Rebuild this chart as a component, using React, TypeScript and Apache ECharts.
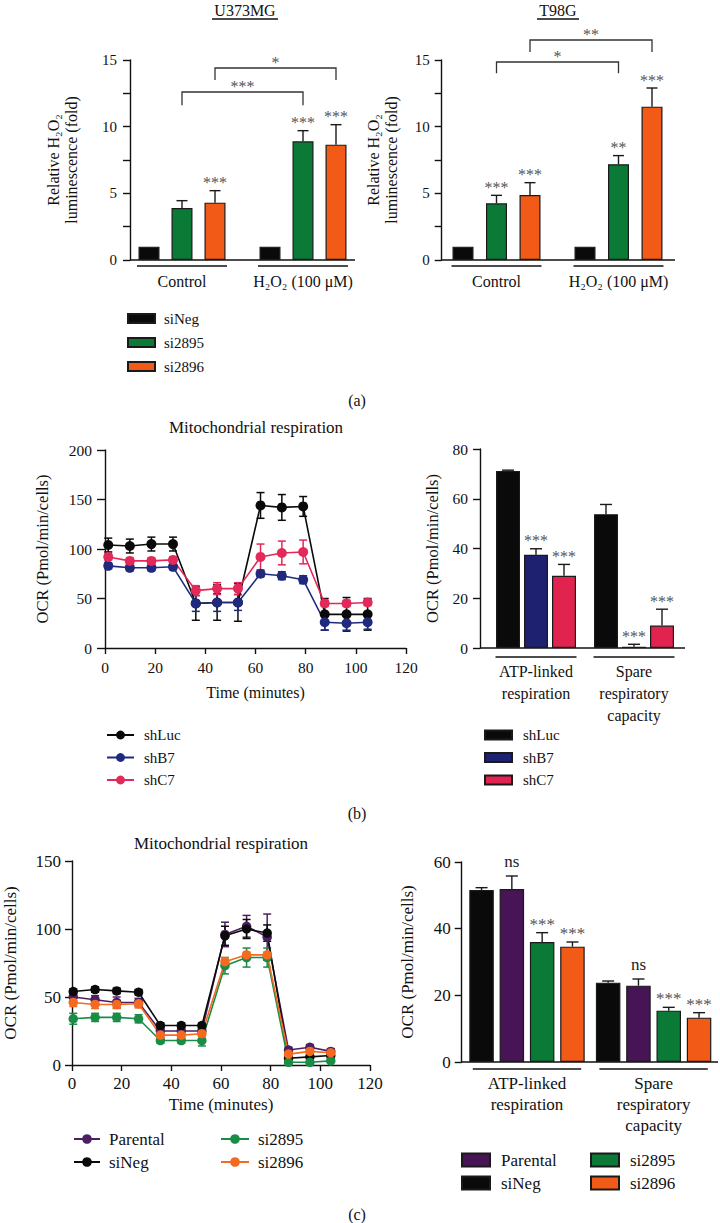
import React, { useEffect, useRef } from "react";
import * as echarts from "echarts";

const FONT = "'Liberation Serif', 'DejaVu Serif', serif";
const INK = "#111111";
const STAR = "#555555";

// ---------- (a) relative H2O2 luminescence ----------
const aGroups = ["Control", "H₂O₂ (100 μM)"];
const aNames = ["siNeg", "si2895", "si2896"];
const aColors = ["#0a0a0a", "#0b7a36", "#f15a17"];
const u373Means = [[1.0, 1.0], [3.9, 8.9], [4.3, 8.65]];
const u373Errs = [[0, 0], [0.55, 0.8], [0.9, 1.5]];
const u373Stars = [["", ""], ["", "***"], ["***", "***"]];
const t98gMeans = [[1.0, 1.0], [4.25, 7.18], [4.88, 11.5]];
const t98gErrs = [[0, 0], [0.6, 0.65], [0.92, 1.4]];
const t98gStars = [["", ""], ["***", "**"], ["***", "***"]];
// [fromGroup, fromSeries, toGroup, toSeries, level, tickEnd]
const u373Brackets = [[0, 1, 1, 1, 12.6, 11.6], [0, 2, 1, 2, 14.4, 13.5]];
const u373BracketLabels = ["***", "*"];
const t98gBrackets = [[0, 1, 1, 1, 14.85, 14.0], [0, 2, 1, 2, 16.5, 15.6]];
const t98gBracketLabels = ["*", "**"];

// ---------- (b) shRNA mitochondrial respiration ----------
const bTime = [1.3, 9.9, 18.5, 27.1, 36.2, 44.7, 53.0, 62.0, 70.5, 79.0, 87.6, 96.3, 104.7];
const bLineNames = ["shLuc", "shB7", "shC7"];
const bLineColors = ["#0a0a0a", "#1f2a7c", "#e3285a"];
const shLucMean = [104, 103, 105, 105, 45, 46, 46, 144, 142, 143, 34, 34, 34];
const shLucErr = [7, 7, 7, 7, 17, 18, 19, 13, 13, 10, 16, 17, 16];
const shB7Mean = [83, 81, 81, 82, 45, 46, 46, 75, 73, 69, 26, 25, 26];
const shB7Err = [3, 3, 3, 3, 8, 9, 8, 3, 4, 4, 8, 7, 7];
const shC7Mean = [92, 88, 88, 89, 58, 60, 60, 92, 96, 97, 45, 45, 46];
const shC7Err = [3, 3, 3, 3, 5, 6, 6, 13, 12, 12, 3, 3, 3];

const bGroups = ["ATP-linked\nrespiration", "Spare\nrespiratory\ncapacity"];
const bBarNames = ["shLuc", "shB7", "shC7"];
const bBarColors = ["#0a0a0a", "#1d2170", "#e0234f"];
const bBarMeans = [[71.2, 53.8], [37.5, 0.5], [29.0, 9.0]];
const bBarErrs = [[0.3, 3.9], [2.4, 1.0], [4.6, 6.6]];
const bBarStars = [["", ""], ["***", "***"], ["***", "***"]];

// ---------- (c) siRNA mitochondrial respiration ----------
const cTime = [0.5, 9.3, 18.0, 26.8, 35.6, 44.0, 52.3, 61.6, 70.3, 78.6, 87.2, 95.8, 104.2];
const cLineNames = ["Parental", "siNeg", "si2895", "si2896"];
const cLineColors = ["#4c1f63", "#0a0a0a", "#1a8c45", "#f36a20"];
const parentalMean = [50, 48, 46, 46, 25, 25, 25, 96, 102, 94, 11, 13, 10];
const parentalErr = [3, 3, 4, 3, 3, 3, 3, 9, 8, 17, 2, 2, 2];
const siNegMean = [54, 55.5, 54.5, 53.5, 29, 29, 29, 95, 100, 97, 5, 6, 7];
const siNegErr = [2, 2, 2, 2, 2, 2, 2, 7, 7, 6, 2, 2, 2];
const si2895Mean = [34, 35, 35, 34, 18, 18, 18, 73, 79, 79, 2, 2, 3];
const si2895Err = [4, 3, 3, 3, 2, 2, 4, 6, 7, 7, 1, 1, 1];
const si2896Mean = [46, 44.5, 44.5, 45, 22, 22, 23, 76, 81, 81, 8, 10, 9];
const si2896Err = [3, 3, 3, 3, 2, 2, 2, 3, 2, 2, 2, 2, 2];

const cGroups = ["ATP-linked\nrespiration", "Spare\nrespiratory\ncapacity"];
const cBarNames = ["siNeg", "Parental", "si2895", "si2896"];
const cBarColors = ["#0a0a0a", "#471455", "#0b7a36", "#f15a17"];
const cBarMeans = [[51.6, 23.8], [51.9, 22.9], [36.0, 15.4], [34.6, 13.3]];
const cBarErrs = [[0.7, 0.5], [3.9, 2.0], [2.8, 1.0], [1.4, 1.5]];
const cBarStars = [["", ""], ["ns", "ns"], ["***", "***"], ["***", "***"]];

const strip = (n: string) => n.slice(n.indexOf(":") + 1);

type BarCfg = {
  grid: number;
  prefix: string;
  names: string[];
  groups: string[];
  means: number[][];
  errs: number[][];
  stars: string[][];
  colors: string[];
  bw: number;
  gap: number;
  cap: number;
  starSize: number;
  lineDy: number;
  linePad: number;
  brackets?: number[][];
  bracketLabels?: string[];
};

function barSeries(o: BarCfg): any[] {
  const n = o.names.length;
  const step = o.bw + o.gap;
  const off = (s: number) => (s - (n - 1) / 2) * step;
  const out: any[] = [];
  o.names.forEach((nm, s) => {
    out.push({
      type: "bar",
      name: o.prefix + nm,
      xAxisIndex: o.grid,
      yAxisIndex: o.grid,
      data: o.means[s],
      barWidth: o.bw,
      barGap: (o.gap / o.bw) * 100 + "%",
      itemStyle: { color: o.colors[s], borderColor: "#1a1a1a", borderWidth: 1.2 },
      z: 2,
    });
  });
  o.names.forEach((nm, s) => {
    out.push({
      type: "custom",
      name: "err",
      xAxisIndex: o.grid,
      yAxisIndex: o.grid,
      clip: false,
      silent: true,
      z: 3,
      data: o.means[s].map((m, i) => [i, m, o.errs[s][i]]),
      encode: { x: 0, y: 1 },
      renderItem: (_p: any, api: any) => {
        const i = api.value(0);
        const m = api.value(1);
        const e = api.value(2);
        const b = api.coord([i, m]);
        const t = api.coord([i, m + e]);
        const x = b[0] + off(s);
        const st = { stroke: "#1a1a1a", lineWidth: 1.4 };
        const children: any[] = [];
        if (e > 0) {
          children.push({ type: "line", shape: { x1: x, y1: b[1], x2: x, y2: t[1] }, style: st });
          children.push({ type: "line", shape: { x1: x - o.cap / 2, y1: t[1], x2: x + o.cap / 2, y2: t[1] }, style: st });
        }
        const star = o.stars[s][i];
        if (star) {
          children.push({
            type: "text",
            x,
            y: t[1] + (star === "ns" ? -6 : 0),
            style: {
              text: star,
              fill: star === "ns" ? "#222" : STAR,
              fontSize: o.starSize,
              fontFamily: FONT,
              align: "center",
              verticalAlign: "bottom",
            },
          });
        }
        return { type: "group", children };
      },
    });
  });
  // group underlines below the axis
  out.push({
    type: "custom",
    name: "grp",
    xAxisIndex: o.grid,
    yAxisIndex: o.grid,
    clip: false,
    silent: true,
    data: o.groups.map((_g, i) => [i, 0]),
    encode: { x: 0, y: 1 },
    renderItem: (_p: any, api: any) => {
      const c = api.coord([api.value(0), 0]);
      const half = (n * o.bw + (n - 1) * o.gap) / 2 + o.linePad;
      return {
        type: "line",
        shape: { x1: c[0] - half, y1: c[1] + o.lineDy, x2: c[0] + half, y2: c[1] + o.lineDy },
        style: { stroke: INK, lineWidth: 1.3 },
      };
    },
  });
  if (o.brackets && o.bracketLabels) {
    const br = o.brackets;
    const labels = o.bracketLabels;
    out.push({
      type: "custom",
      name: "brk",
      xAxisIndex: o.grid,
      yAxisIndex: o.grid,
      clip: false,
      silent: true,
      data: br.map((b, k) => [b[0], b[4], k]),
      encode: { x: 0, y: 1 },
      renderItem: (_p: any, api: any) => {
        const k = api.value(2);
        const b = br[k];
        const x1 = api.coord([b[0], b[4]])[0] + off(b[1]);
        const x2 = api.coord([b[2], b[4]])[0] + off(b[3]);
        const yTop = api.coord([b[0], b[4]])[1];
        const yEnd = api.coord([b[0], b[5]])[1];
        return {
          type: "group",
          children: [
            {
              type: "polyline",
              shape: { points: [[x1, yEnd], [x1, yTop], [x2, yTop], [x2, yEnd]] },
              style: { stroke: "#333", lineWidth: 1.3, fill: "none" },
            },
            {
              type: "text",
              x: (x1 + x2) / 2,
              y: yTop + 2,
              style: {
                text: labels[k],
                fill: STAR,
                fontSize: o.starSize,
                fontFamily: FONT,
                align: "center",
                verticalAlign: "bottom",
              },
            },
          ],
        };
      },
    });
  }
  return out;
}

function lineSeries(
  grid: number,
  prefix: string,
  names: string[],
  colors: string[],
  times: number[],
  means: number[][],
  errs: number[][],
  symbolSize: number
): any[] {
  const out: any[] = [];
  names.forEach((nm, s) => {
    const color = colors[s];
    out.push({
      type: "custom",
      name: "errl",
      xAxisIndex: grid,
      yAxisIndex: grid,
      clip: false,
      silent: true,
      z: 2,
      data: times.map((t, i) => [t, means[s][i], errs[s][i]]),
      encode: { x: 0, y: 1 },
      renderItem: (_p: any, api: any) => {
        const x = api.value(0);
        const m = api.value(1);
        const e = api.value(2);
        const lo = api.coord([x, m - e]);
        const hi = api.coord([x, m + e]);
        const cx = lo[0];
        const st = { stroke: color, lineWidth: 1.5 };
        return {
          type: "group",
          children: [
            { type: "line", shape: { x1: cx, y1: lo[1], x2: cx, y2: hi[1] }, style: st },
            { type: "line", shape: { x1: cx - 4, y1: lo[1], x2: cx + 4, y2: lo[1] }, style: st },
            { type: "line", shape: { x1: cx - 4, y1: hi[1], x2: cx + 4, y2: hi[1] }, style: st },
          ],
        };
      },
    });
    out.push({
      type: "line",
      name: prefix + nm,
      xAxisIndex: grid,
      yAxisIndex: grid,
      data: times.map((t, i) => [t, means[s][i]]),
      symbol: "circle",
      symbolSize,
      itemStyle: { color },
      lineStyle: { color, width: 1.6 },
      z: 3,
    });
  });
  return out;
}

const axisLine = { show: true, lineStyle: { color: INK, width: 1.4 } };
const tickStyle = { color: INK, width: 1.4 };
const txt = (size: number) => ({ color: INK, fontFamily: FONT, fontSize: size });

function catX(grid: number, data: string[], size: number, margin: number, lineHeight: number) {
  return {
    type: "category",
    gridIndex: grid,
    data,
    axisLine: { show: false },
    axisTick: { show: false },
    axisLabel: { ...txt(size), margin, lineHeight, interval: 0 },
  };
}

function valX(grid: number, size: number, margin: number, nameGap: number, nameSize: number) {
  return {
    type: "value",
    gridIndex: grid,
    min: 0,
    max: 120,
    interval: 20,
    axisLine,
    axisTick: { show: true, length: 6, lineStyle: tickStyle },
    axisLabel: { ...txt(size), margin },
    splitLine: { show: false },
    name: "Time (minutes)",
    nameLocation: "middle",
    nameGap,
    nameTextStyle: txt(nameSize),
  };
}

function valY(
  grid: number,
  max: number,
  interval: number,
  offset: number,
  size: number,
  margin: number,
  tick: number,
  name: string,
  nameGap: number,
  nameSize: number,
  minor: boolean
) {
  return {
    type: "value",
    gridIndex: grid,
    min: 0,
    max,
    interval,
    offset,
    axisLine,
    axisTick: { show: true, length: tick, lineStyle: tickStyle },
    minorTick: { show: minor, splitNumber: 2, length: tick, lineStyle: tickStyle },
    axisLabel: { ...txt(size), margin },
    splitLine: { show: false },
    name,
    nameLocation: "middle",
    nameGap,
    nameTextStyle: { ...txt(nameSize), lineHeight: nameSize + 2 },
  };
}

function legend(data: string[], left: number, top: number, w: number, h: number, gap: number, size: number, pad: number, rect: boolean) {
  const l: any = {
    data,
    orient: "vertical",
    left,
    top,
    itemWidth: w,
    itemHeight: h,
    itemGap: gap,
    padding: 0,
    selectedMode: false,
    formatter: strip,
    textStyle: { ...txt(size), lineHeight: size, padding: [0, 0, 0, pad] },
  };
  if (rect) l.icon = "rect";
  return l;
}

function text(x: number, y: number, s: string, size: number) {
  return {
    type: "text",
    x,
    y,
    style: { text: s, fill: INK, fontSize: size, fontFamily: FONT, align: "center", verticalAlign: "middle" },
  };
}

function hline(x1: number, x2: number, y: number, w = 1.4) {
  return { type: "line", shape: { x1, y1: y, x2, y2: y }, style: { stroke: INK, lineWidth: w } };
}

function buildOption(): any {
  const series: any[] = [
    ...barSeries({
      grid: 0, prefix: "a:", names: aNames, groups: aGroups, means: u373Means, errs: u373Errs, stars: u373Stars,
      colors: aColors, bw: 21, gap: 12, cap: 11, starSize: 16, lineDy: 6, linePad: 1.5,
      brackets: u373Brackets, bracketLabels: u373BracketLabels,
    }),
    ...barSeries({
      grid: 1, prefix: "a:", names: aNames, groups: aGroups, means: t98gMeans, errs: t98gErrs, stars: t98gStars,
      colors: aColors, bw: 21, gap: 12.5, cap: 11, starSize: 16, lineDy: 6, linePad: 1,
      brackets: t98gBrackets, bracketLabels: t98gBracketLabels,
    }),
    ...lineSeries(2, "bl:", bLineNames, bLineColors, bTime, [shLucMean, shB7Mean, shC7Mean], [shLucErr, shB7Err, shC7Err], 10),
    ...barSeries({
      grid: 3, prefix: "br:", names: bBarNames, groups: bGroups, means: bBarMeans, errs: bBarErrs, stars: bBarStars,
      colors: bBarColors, bw: 24, gap: 4, cap: 12, starSize: 16, lineDy: 9, linePad: 0.5,
    }),
    ...lineSeries(4, "cl:", cLineNames, cLineColors, cTime,
      [parentalMean, siNegMean, si2895Mean, si2896Mean], [parentalErr, siNegErr, si2895Err, si2896Err], 9.5),
    ...barSeries({
      grid: 5, prefix: "cr:", names: cBarNames, groups: cGroups, means: cBarMeans, errs: cBarErrs, stars: cBarStars,
      colors: cBarColors, bw: 24.5, gap: 5.8, cap: 12, starSize: 17, lineDy: 7, linePad: -3.5,
    }),
  ];

  return {
    animation: false,
    backgroundColor: "#ffffff",
    textStyle: { fontFamily: FONT },
    grid: [
      { left: 121.5, top: 60, width: 242, height: 200 },
      { left: 435.5, top: 60, width: 244, height: 200 },
      { left: 105, top: 450, width: 301, height: 198 },
      { left: 487, top: 449, width: 196, height: 199 },
      { left: 71, top: 861, width: 299, height: 204 },
      { left: 463.7, top: 862, width: 253.2, height: 200 },
    ],
    xAxis: [
      catX(0, aGroups, 16, 13, 16),
      catX(1, aGroups, 16, 13, 16),
      valX(2, 15.5, 11, 36, 16),
      catX(3, bGroups, 16, 12, 22),
      valX(4, 17, 10, 31, 17),
      catX(5, cGroups, 17, 11, 21),
    ],
    yAxis: [
      valY(0, 15, 5, -8.5, 15, 13, 7, "Relative H₂O₂\nluminescence (fold)", 50, 16, true),
      valY(1, 15, 5, -6.2, 15, 12, 7, "Relative H₂O₂\nluminescence (fold)", 41, 16, true),
      valY(2, 200, 50, 0, 15.5, 13, 8, "OCR (Pmol/min/cells)", 53, 16.5, false),
      valY(3, 80, 20, 7, 15.5, 12, 7, "OCR (Pmol/min/cells)", 38, 16.5, false),
      valY(4, 150, 50, 0, 17, 11, 7, "OCR (Pmol/min/cells)", 52, 17, false),
      valY(5, 60, 20, 2, 17, 11, 7, "OCR (Pmol/min/cells)", 45, 17, false),
    ],
    legend: [
      legend(aNames.map((n) => "a:" + n), 127, 311, 27, 9, 9, 15, 4, true),
      legend(bLineNames.map((n) => "bl:" + n), 106, 727.5, 27, 11, 7.5, 15, 5, false),
      legend(bBarNames.map((n) => "br:" + n), 484, 727.5, 27, 9, 7.5, 15, 6, true),
      legend(["cl:Parental", "cl:siNeg"], 73, 1130.5, 26, 12, 6, 17, 4, false),
      legend(["cl:si2895", "cl:si2896"], 220, 1130.5, 28, 12, 6, 17, 4, false),
      legend(["cr:Parental", "cr:siNeg"], 461, 1151.5, 28, 13, 6, 17, 6, true),
      legend(["cr:si2895", "cr:si2896"], 590, 1151.5, 28, 13, 6, 17, 6, true),
    ],
    graphic: [
      text(245, 10, "U373MG", 16),
      hline(212, 278, 19, 1.3),
      text(558, 10, "T98G", 16),
      hline(537, 579, 19, 1.3),
      hline(130, 355, 260),
      hline(441.7, 675, 260),
      hline(480, 685, 648),
      hline(461.7, 718, 1062),
      text(357, 400, "(a)", 16),
      text(256, 427, "Mitochondrial respiration", 17),
      text(357, 813, "(b)", 16),
      text(221, 843, "Mitochondrial respiration", 17),
      text(357, 1214, "(c)", 16),
    ],
    series,
  };
}

export default function App() {
  const ref = useRef<HTMLDivElement>(null);
  useEffect(() => {
    if (!ref.current) return;
    const chart = echarts.init(ref.current, undefined, { renderer: "svg" });
    chart.setOption(buildOption());
    return () => chart.dispose();
  }, []);
  return (
    <div
      ref={ref}
      style={{ position: "absolute", left: 0, top: 0, width: 720, height: 1223, background: "#fff" }}
    />
  );
}
